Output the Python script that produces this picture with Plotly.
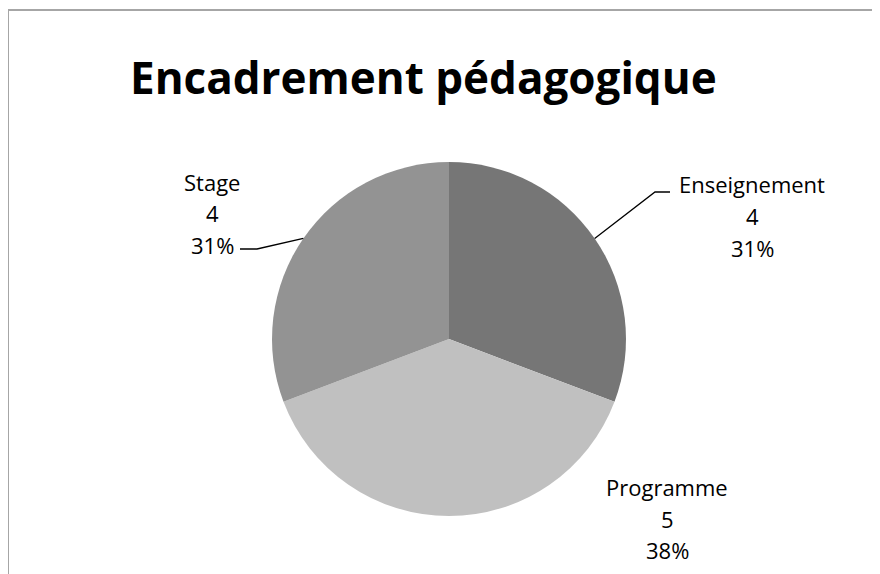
import math
import plotly.graph_objects as go

# ---- data ----
title_text = "Encadrement pédagogique"
categories = ["Enseignement", "Programme", "Stage"]
values = [4, 5, 4]
colors = ["#767676", "#c0c0c0", "#939393"]

# page body has an 8px margin; work in window pixels and convert
OFF = 8
W, H = 880 - OFF, 574 - OFF
# pie geometry in window pixels (layout)
cx, cy, R = 449, 339, 177

def px(x):
    return (x - OFF) / W

def py(y):
    return 1 - (y - OFF) / H

total = sum(values)
pct = [round(100 * v / total) for v in values]

fig = go.Figure()
fig.add_trace(go.Pie(
    labels=categories,
    values=values,
    sort=False,
    direction="clockwise",
    rotation=0,
    marker=dict(colors=colors, line=dict(width=0)),
    textinfo="none",
    hoverinfo="label+value+percent",
    showlegend=False,
    domain=dict(x=[px(cx - R), px(cx + R)], y=[py(cy + R), py(cy - R)]),
))

# label placement (layout): text centre x, line centres y
label_pos = {
    "Enseignement": (752, [184, 216, 248]),
    "Programme": (667, [487, 519, 550]),
    "Stage": (212, [182, 213, 245]),
}
font = dict(family="Open Sans, Liberation Sans, sans-serif", size=22, color="#000000")
annotations = []
for cat, v, p in zip(categories, values, pct):
    x, ys = label_pos[cat]
    for txt, y in zip([cat, str(v), f"{p}%"], ys):
        annotations.append(dict(
            x=px(x), y=py(y), xref="paper", yref="paper",
            text=txt, showarrow=False, xanchor="center", yanchor="middle",
            font=font,
        ))

annotations.append(dict(
    x=px(423), y=py(77), xref="paper", yref="paper",
    text="<b>" + title_text + "</b>", showarrow=False,
    xanchor="center", yanchor="middle",
    font=dict(family="Open Sans, Liberation Sans, sans-serif", size=44, color="#000000"),
))

# leader lines from slice mid-angles
shapes = []
cum = 0
elbow = {"Enseignement": ((655, 192), (670, 192)), "Stage": ((257, 249), (240, 249))}
for cat, v in zip(categories, values):
    mid = (cum + v / 2) / total * 2 * math.pi
    cum += v
    if cat not in elbow:
        continue
    sx = cx + R * math.sin(mid)
    sy = cy - R * math.cos(mid)
    (bx, by), (ex, ey) = elbow[cat]
    path = f"M {px(sx)} {py(sy)} L {px(bx)} {py(by)} L {px(ex)} {py(ey)}"
    shapes.append(dict(type="path", xref="paper", yref="paper", path=path,
                       line=dict(color="#000000", width=1.3)))

# chart-area border (left + top only visible)
shapes.append(dict(type="line", xref="paper", yref="paper",
                   x0=px(8), x1=px(8), y0=py(10), y1=py(600),
                   line=dict(color="#a6a6a6", width=2)))
shapes.append(dict(type="line", xref="paper", yref="paper",
                   x0=px(8), x1=px(900), y0=py(10), y1=py(10),
                   line=dict(color="#a6a6a6", width=2)))

fig.update_layout(
    width=W, height=H,
    margin=dict(l=0, r=0, t=0, b=0),
    paper_bgcolor="#ffffff",
    plot_bgcolor="#ffffff",
    annotations=annotations,
    shapes=shapes,
)

fig.write_html("out.html")
